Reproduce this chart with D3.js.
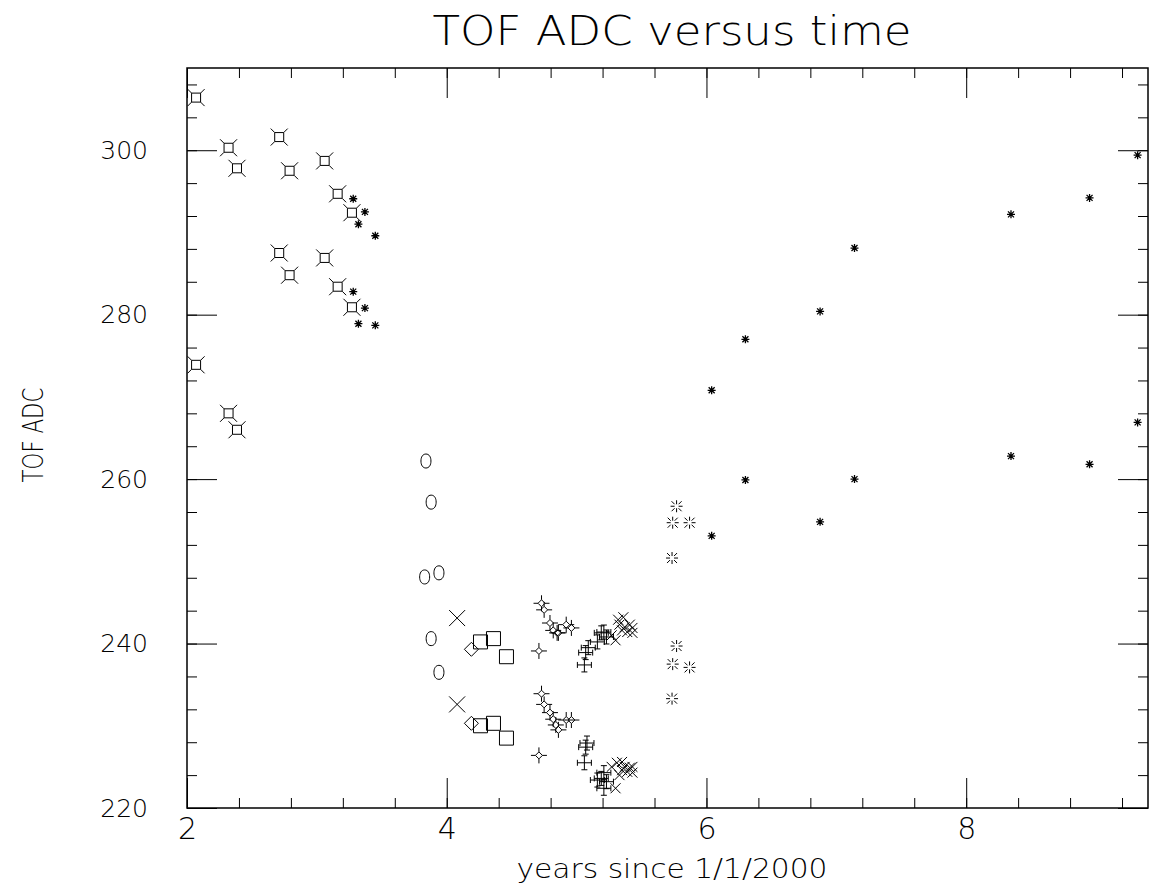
<!DOCTYPE html>
<html>
<head>
<meta charset="utf-8">
<script src="https://cdn.jsdelivr.net/npm/d3@7"></script>
<style>
  body { margin: 0; background: #fff; }
  svg { display: block; }
  text { font-family: 'DejaVu Sans', sans-serif; font-weight: 200; fill: #000; }
</style>
</head>
<body>
<div id="chart"></div>
<script>
// readings, [years since 2000, ADC]
let spikedSquares = [[2.07, 306.4], [2.32, 300.3], [2.385, 297.8], [2.71, 301.6], [2.79, 297.5], [3.06, 298.7],
    [3.16, 294.7], [3.27, 292.4], [2.71, 287.5], [3.06, 286.9], [2.79, 284.8], [3.16, 283.4], [3.27, 280.9],
    [2.07, 273.9], [2.32, 268.0], [2.385, 266.0]]
let earlyStars = [[3.28, 294.1], [3.37, 292.5], [3.32, 291.0], [3.45, 289.6],
    [3.28, 282.8], [3.37, 280.8], [3.32, 278.9], [3.45, 278.7]]
let ovals = [[3.84, 262.2], [3.88, 257.2], [3.83, 248.1], [3.94, 248.6], [3.88, 240.6], [3.94, 236.5]]
let bigCrosses = [[4.08, 243.1], [4.08, 232.6]]
let diamonds = [[4.19, 239.3], [4.19, 230.3]]
let squares = [[4.26, 240.2], [4.36, 240.6], [4.46, 238.4], [4.26, 230.0], [4.36, 230.3], [4.46, 228.5]]
let fourStars = [[4.73, 244.9], [4.75, 244.1], [4.795, 242.5], [4.82, 241.6], [4.85, 241.3], [4.86, 241.3],
    [4.92, 242.3], [4.96, 241.9], [4.71, 239.1],
    [4.73, 233.9], [4.75, 232.6], [4.795, 231.6], [4.82, 230.8], [4.84, 230.1], [4.86, 229.5],
    [4.92, 230.7], [4.96, 230.7], [4.71, 226.4]]
let serifPlus = [[5.06, 237.4], [5.07, 238.9], [5.09, 239.5], [5.16, 240.2], [5.19, 241.3], [5.21, 241.4], [5.23, 240.8],
    [5.07, 227.4], [5.08, 227.9], [5.06, 225.5], [5.16, 223.4], [5.19, 223.6], [5.21, 222.4], [5.23, 223.2], [5.21, 224.3]]
let smallCrosses = [[5.30, 240.4], [5.32, 242.9], [5.36, 243.2], [5.37, 242.0], [5.41, 242.3], [5.43, 241.3],
    [5.35, 241.6], [5.39, 241.4], [5.43, 241.9], [5.33, 242.3], [5.27, 241.0],
    [5.30, 222.4], [5.27, 225.0], [5.31, 225.5], [5.35, 225.6], [5.37, 225.0], [5.41, 224.9],
    [5.43, 224.3], [5.39, 224.4], [5.35, 224.6], [5.43, 225.0], [5.33, 224.0]]
let dashedStars = [[5.77, 256.7], [5.74, 254.7], [5.87, 254.7], [5.735, 250.4],
    [5.77, 239.7], [5.74, 237.5], [5.87, 237.1], [5.735, 233.3]]
let lateStars = [[6.04, 270.8], [6.04, 253.1], [6.30, 277.0], [6.30, 259.9], [6.875, 280.4], [6.875, 254.8],
    [7.14, 288.1], [7.14, 260.0], [8.345, 292.2], [8.345, 262.8], [8.95, 294.2], [8.95, 261.8],
    [9.32, 299.4], [9.32, 266.9]]

let xMajor = [2, 4, 6, 8]
let yMajor = [220, 240, 260, 280, 300]

let width = 1164,
    height = 888,
    margin = { top: 68, right: 16, bottom: 80, left: 187 }

let svg = d3.select('#chart').append('svg')
    .attr('width', width)
    .attr('height', height)

let x = d3.scaleLinear().domain([2, 9.4]).range([margin.left, width - margin.right])
let y = d3.scaleLinear().domain([220, 310]).range([height - margin.bottom, margin.top])

let xMinor = d3.range(0, 19).map(i => 2 + i * 0.4)
let yMinor = d3.range(0, 23).map(i => 220 + i * 4)

// axes, ticks all point into the frame
function styleAxis(g) {
    g.select('.domain').remove()
    g.selectAll('line').attr('stroke', '#000').attr('stroke-width', 1)
    g.selectAll('text').attr('font-size', 25)
}

let x0 = height - margin.bottom, y0 = margin.left
svg.append('g').attr('transform', `translate(0,${x0})`)
    .call(d3.axisBottom(x).tickValues(xMinor).tickSize(-10).tickFormat(''))
    .call(styleAxis)
svg.append('g').attr('transform', `translate(0,${x0})`)
    .call(d3.axisBottom(x).tickValues(xMajor).tickSize(-30).tickPadding(10).tickFormat(d3.format('d')))
    .call(styleAxis)
    .call(g => g.selectAll('text').attr('font-size', 30))
svg.append('g').attr('transform', `translate(0,${margin.top})`)
    .call(d3.axisTop(x).tickValues(xMinor).tickSize(-10).tickFormat(''))
    .call(styleAxis)
svg.append('g').attr('transform', `translate(0,${margin.top})`)
    .call(d3.axisTop(x).tickValues(xMajor).tickSize(-30).tickFormat(''))
    .call(styleAxis)

svg.append('g').attr('transform', `translate(${y0},0)`)
    .call(d3.axisLeft(y).tickValues(yMinor).tickSize(-10).tickFormat(''))
    .call(styleAxis)
svg.append('g').attr('transform', `translate(${y0},0)`)
    .call(d3.axisLeft(y).tickValues(yMajor).tickSize(-30).tickPadding(39).tickFormat(d3.format('d')))
    .call(styleAxis)
svg.append('g').attr('transform', `translate(${width - margin.right},0)`)
    .call(d3.axisRight(y).tickValues(yMinor).tickSize(-10).tickFormat(''))
    .call(styleAxis)
svg.append('g').attr('transform', `translate(${width - margin.right},0)`)
    .call(d3.axisRight(y).tickValues(yMajor).tickSize(-30).tickFormat(''))
    .call(styleAxis)

svg.append('rect')
    .attr('x', x(2)).attr('y', y(310))
    .attr('width', x(9.4) - x(2)).attr('height', y(220) - y(310))
    .attr('fill', 'none').attr('stroke', '#000').attr('stroke-width', 1.5)

// marker shapes, PAW style
let shapes = {
    spikedSquare: 'M-4.5,-4.5H4.5V4.5H-4.5Z M-4.5,-4.5l-4,-4 M4.5,-4.5l4,-4 M4.5,4.5l4,4 M-4.5,4.5l-4,4',
    star: 'M-4,0H4 M0,-4V4 M-3,-3L3,3 M-3,3L3,-3',
    oval: 'M0,-7 C3.4,-7 5,-3.8 5,0 C5,3.8 3.4,7 0,7 C-3.4,7 -5,3.8 -5,0 C-5,-3.8 -3.4,-7 0,-7Z',
    bigCross: 'M-8,-8L8,8 M-8,8L8,-8',
    diamond: 'M0,-7L7,0L0,7L-7,0Z',
    square: 'M-7,-7H7V7H-7Z',
    fourStar: 'M0,-3.5L3.5,0L0,3.5L-3.5,0Z M0,-8V-3.5 M0,3.5V8 M-8,0H-3.5 M3.5,0H8',
    serifPlus: 'M-7,0H7 M0,-7V7 M-7,-3V3 M7,-3V3 M-3,-7H3 M-3,7H3',
    smallCross: 'M-5,-5L5,5 M-5,5L5,-5',
    dashedStar: 'M-6,0H-2 M2,0H6 M0,-6V-2 M0,2V6 M-5,-5L-2,-2 M2,2L5,5 M-5,5L-2,2 M2,-2L5,-5'
}

let groups = [
    [spikedSquares, 'spikedSquare'], [earlyStars, 'star'], [ovals, 'oval'], [bigCrosses, 'bigCross'],
    [diamonds, 'diamond'], [squares, 'square'], [fourStars, 'fourStar'], [serifPlus, 'serifPlus'],
    [smallCrosses, 'smallCross'], [dashedStars, 'dashedStar'], [lateStars, 'star']
]

let marks = svg.append('g').attr('class', 'marks')
groups.forEach(([data, shape]) => {
    marks.append('g').attr('class', shape)
        .selectAll('path')
        .data(data)
        .enter().append('path')
        .attr('transform', d => `translate(${x(d[0])},${y(d[1])})`)
        .attr('d', shapes[shape])
        .attr('fill', 'none')
        .attr('stroke', '#000')
        .attr('stroke-width', shape === 'star' ? 1.3 : 1)
})

// titles
svg.append('text')
    .attr('x', 672).attr('y', 45)
    .attr('text-anchor', 'middle')
    .attr('font-size', 40)
    .attr('textLength', 479).attr('lengthAdjust', 'spacingAndGlyphs')
    .text('TOF ADC versus time')

svg.append('text')
    .attr('x', 672).attr('y', 878)
    .attr('text-anchor', 'middle')
    .attr('font-size', 27)
    .attr('textLength', 311).attr('lengthAdjust', 'spacingAndGlyphs')
    .text('years since 1/1/2000')

svg.append('text')
    .attr('transform', 'translate(43,435) rotate(-90)')
    .attr('text-anchor', 'middle')
    .attr('font-size', 29)
    .attr('textLength', 95).attr('lengthAdjust', 'spacingAndGlyphs')
    .text('TOF ADC')
</script>
</body>
</html>
